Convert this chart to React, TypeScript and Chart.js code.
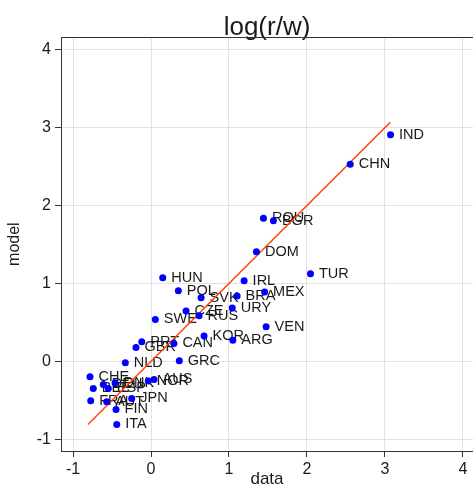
import React, { useEffect, useRef } from "react";
import { Chart, registerables } from "chart.js";

Chart.register(...registerables);

const countries = [
  "IND", "CHN", "ROU", "BGR", "DOM", "TUR", "IRL", "MEX", "BRA", "URY",
  "VEN", "HUN", "POL", "SVK", "CZE", "RUS", "SWE", "KOR", "ARG", "CAN",
  "PRT", "GBR", "NLD", "GRC", "CHE", "BEL", "DEU", "ESP", "DNK", "FRA",
  "AUT", "JPN", "FIN", "ITA", "NOR", "AUS",
];
const dataValues = [
  3.072, 2.555, 1.442, 1.570, 1.352, 2.045, 1.194, 1.457, 1.104, 1.042,
  1.476, 0.150, 0.350, 0.642, 0.449, 0.616, 0.055, 0.680, 1.049, 0.293,
  -0.119, -0.193, -0.330, 0.363, -0.783, -0.741, -0.612, -0.548, -0.462, -0.774,
  -0.569, -0.248, -0.449, -0.440, -0.035, 0.039,
];
const modelValues = [
  2.909, 2.529, 1.836, 1.805, 1.407, 1.125, 1.035, 0.890, 0.838, 0.684,
  0.444, 1.073, 0.906, 0.816, 0.646, 0.585, 0.539, 0.325, 0.270, 0.231,
  0.252, 0.180, -0.018, 0.008, -0.198, -0.347, -0.295, -0.347, -0.275, -0.506,
  -0.519, -0.475, -0.616, -0.809, -0.253, -0.231,
];
const fitX = [-0.81, 3.07];
const fitY = [-0.81, 3.07];
const tickValues = [-1, 0, 1, 2, 3, 4];
const xRange = [-1.155, 4.13];
const yRange = [-1.15, 4.16];

const FONT = "'Liberation Sans', Arial, Helvetica, sans-serif";
const GRID = "#e2e2e2";

const labelPlugin = {
  id: "pointLabels",
  beforeDatasetsDraw(chart: any) {
    const ctx = chart.ctx;
    const area = chart.chartArea;
    ctx.save();
    // top frame line
    ctx.strokeStyle = "#333333";
    ctx.lineWidth = 1;
    ctx.beginPath();
    const ty = Math.floor(area.top) + 0.5;
    ctx.moveTo(area.left, ty);
    ctx.lineTo(area.right, ty);
    ctx.stroke();
    // labels
    const meta = chart.getDatasetMeta(0);
    ctx.fillStyle = "#1a1a1a";
    ctx.font = `14.5px ${FONT}`;
    ctx.textBaseline = "middle";
    ctx.textAlign = "left";
    meta.data.forEach((el: any, i: number) => {
      ctx.fillText(countries[i], el.x + 8.5, el.y);
    });
    ctx.restore();
  },
};

export default function App() {
  const ref = useRef<HTMLCanvasElement>(null);
  useEffect(() => {
    if (!ref.current) return;
    const points = dataValues.map((x, i) => ({ x, y: modelValues[i] }));
    const fit = fitX.map((x, i) => ({ x, y: fitY[i] }));
    const setTicks = (scale: any) => {
      scale.ticks = tickValues.map((v) => ({ value: v }));
    };
    const chart = new Chart(ref.current, {
      type: "scatter",
      data: {
        datasets: [
          {
            data: points,
            pointRadius: 3.5,
            pointBackgroundColor: "#0000ff",
            pointBorderWidth: 0,
            order: 0,
          } as any,
          {
            type: "line",
            data: fit,
            borderColor: "#ff4500",
            borderWidth: 1.5,
            pointRadius: 0,
            showLine: true,
            fill: false,
            order: 1,
          } as any,
        ],
      },
      options: {
        responsive: false,
        animation: false,
        devicePixelRatio: 1,
        layout: { padding: 0, autoPadding: false },
        plugins: {
          legend: { display: false },
          tooltip: { enabled: false },
          title: {
            display: true,
            fullSize: false,
            text: "log(r/w)",
            color: "#1a1a1a",
            font: { family: FONT, size: 26, weight: "normal", lineHeight: 1 },
            padding: { top: 15.3, bottom: -4 },
          },
        },
        scales: {
          x: {
            type: "linear",
            min: xRange[0],
            max: xRange[1],
            afterBuildTicks: setTicks,
            afterFit: (s: any) => {
              s.height = 46;
              s.paddingLeft = 0;
              s.paddingRight = 0;
            },
            grid: {
              color: GRID,
              lineWidth: 1,
              tickColor: "#333333",
              tickLength: 6,
            },
            border: { color: "#333333", width: 1 },
            ticks: {
              color: "#1a1a1a",
              font: { family: FONT, size: 16 },
              padding: 3,
              maxRotation: 0,
            },
            title: {
              display: true,
              text: "data",
              color: "#1a1a1a",
              font: { family: FONT, size: 17, lineHeight: 1 },
              padding: { top: 0, bottom: 8.8 },
            },
          },
          y: {
            type: "linear",
            min: yRange[0],
            max: yRange[1],
            afterBuildTicks: setTicks,
            afterFit: (s: any) => {
              s.width = 61;
              s.paddingTop = 0;
              s.paddingBottom = 0;
            },
            grid: {
              color: GRID,
              lineWidth: 1,
              tickColor: "#333333",
              tickLength: 6,
            },
            border: { color: "#333333", width: 1 },
            ticks: {
              color: "#1a1a1a",
              font: { family: FONT, size: 16 },
              padding: 4,
            },
            title: {
              display: true,
              text: "model",
              color: "#1a1a1a",
              font: { family: FONT, size: 16, lineHeight: 1 },
              padding: { top: 6.4, bottom: 0 },
            },
          },
        },
      },
      plugins: [labelPlugin],
    });
    return () => chart.destroy();
  }, []);
  return (
    <div style={{ position: "absolute", left: 0, top: 0, width: 473, height: 497 }}>
      <canvas ref={ref} width={473} height={497} />
    </div>
  );
}
